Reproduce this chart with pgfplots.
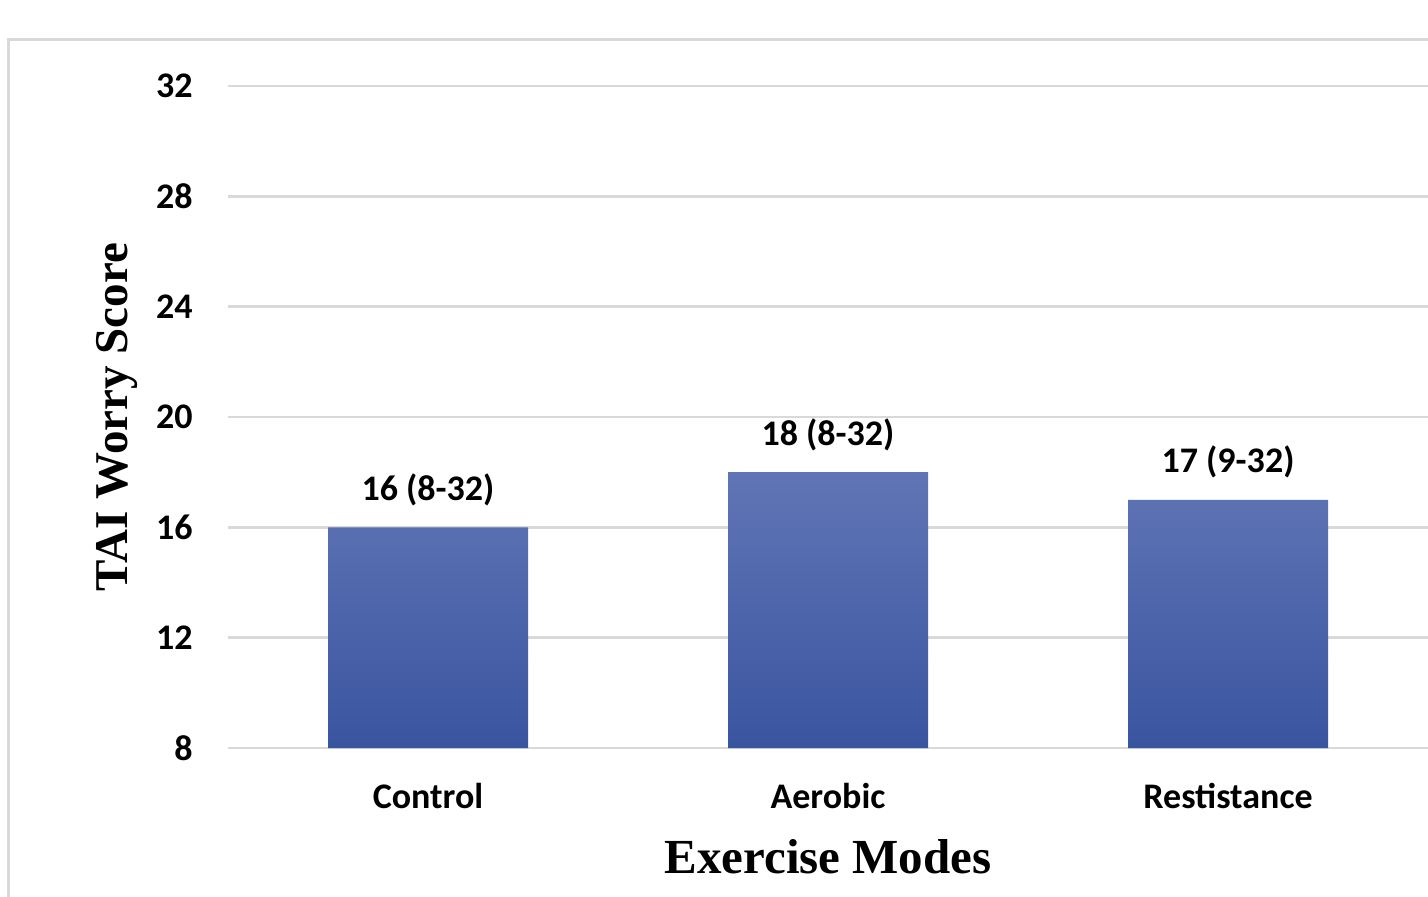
\documentclass[border=0pt]{standalone}
\usepackage{pgfplots}
\pgfplotsset{compat=1.18}
\usepackage{fontspec}
\setmainfont{Carlito}
\newfontfamily\serifb{Liberation Serif}
\definecolor{gridc}{HTML}{D9D9D9}
\definecolor{bartop}{HTML}{6075B5}
\definecolor{barbot}{HTML}{3A55A0}
\begin{document}
\begin{tikzpicture}[x=1pt,y=1pt]
\path[use as bounding box,fill=white] (0,0) rectangle (714,448);
\draw[gridc,line width=1.5pt] (4,-5) -- (4,428) -- (720,428);
\begin{axis}[
  at={(114pt,74pt)}, anchor=south west,
  scale only axis, width=600pt, height=331pt,
  xmin=-0.5, xmax=2.5, ymin=8, ymax=32,
  ytick={8,12,...,32},
  xtick={0,1,2},
  xticklabels={Control,Aerobic,Restistance},
  axis line style={draw=none},
  major tick length=0pt,
  ymajorgrids, grid style={gridc,line width=1.2pt},
  /pgf/number format/assume math mode=true,
  ticklabel style={font=\fontsize{18}{20}\selectfont\bfseries},
  yticklabel style={anchor=east,inner sep=0pt,xshift=-17.5pt},
  xticklabel style={anchor=base,inner sep=0pt,yshift=-30pt},
  xlabel={Exercise Modes},
  ylabel={TAI Worry Score},
  every axis x label/.style={at={(axis description cs:0.5,-0.1647)},anchor=center,font=\serifb\fontsize{24.5}{28}\selectfont\bfseries},
  every axis y label/.style={at={(axis description cs:-0.0925,0.5)},anchor=center,rotate=90,font=\serifb\fontsize{23.5}{28}\selectfont\bfseries},
  clip=false,
]
\addplot[ybar, bar width=100pt, draw=none, top color=bartop, bottom color=barbot,
  point meta=explicit symbolic,
  nodes near coords,
  every node near coord/.append style={anchor=base,inner sep=0pt,yshift=13.5pt,font=\fontsize{18}{20}\selectfont\bfseries,text=black}]
  coordinates {(0,16) [16 (8-32)] (1,18) [18 (8-32)] (2,17) [17 (9-32)]};
\end{axis}
\end{tikzpicture}
\end{document}
